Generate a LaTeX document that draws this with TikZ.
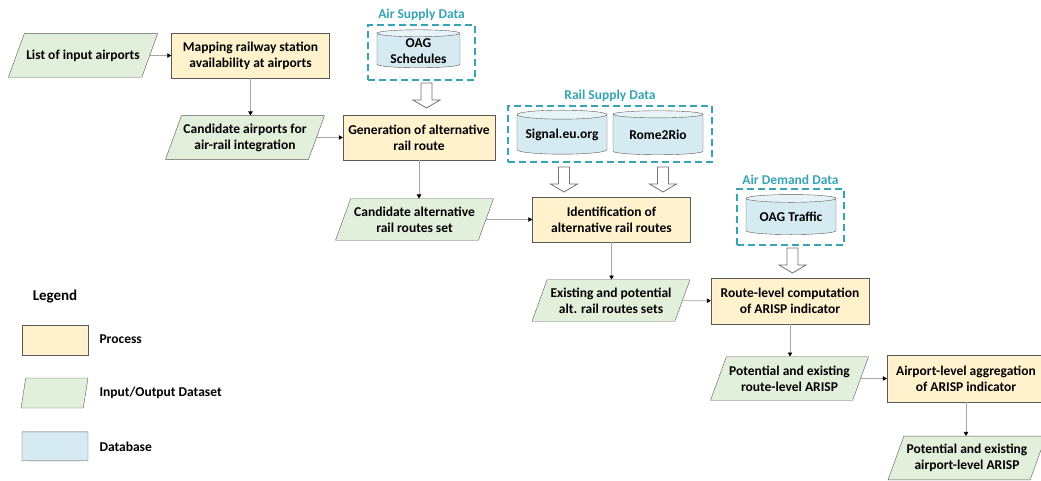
\documentclass[tikz,border=0pt]{standalone}
\usepackage{fontspec}
\setmainfont{Carlito}
\usepackage{tikz}
\usetikzlibrary{
	shapes.geometric,
	arrows.meta
}

\definecolor{procfill}{HTML}{FFF2CC}
\definecolor{iofill}{HTML}{E2EFDA}
\definecolor{dbfill}{HTML}{D5EBF1}
\definecolor{dbtop}{HTML}{E6F3F7}
\definecolor{groupteal}{HTML}{35A5B5}
\definecolor{edgegray}{HTML}{595959}
\definecolor{flowgray}{HTML}{A6A6A6}

\tikzset{
	process/.style={rectangle, draw=edgegray, fill=procfill, minimum width=158pt, minimum height=45pt, align=center, inner sep=2pt},
	dataset/.style={trapezium, trapezium left angle=70, trapezium right angle=110, trapezium stretches body=true, draw=edgegray, fill=iofill, minimum width=158pt, align=center, inner xsep=2pt, inner ysep=8pt},
	database/.style={cylinder, shape border rotate=90, aspect=0.12, draw=edgegray, cylinder uses custom fill, cylinder body fill=dbfill, cylinder end fill=dbtop, minimum width=90pt, minimum height=44pt, align=center, inner sep=1pt},
	datagroup/.style={rectangle, draw=groupteal, dash pattern=on 7pt off 4pt, line width=1.3pt},
	grouptitle/.style={text=groupteal},
	feed/.style={draw=edgegray!85, fill=white, line width=0.8pt, line join=miter},
	flow/.style={draw=flowgray, line width=0.7pt, -{Triangle[length=4pt,width=4.5pt,color=black]}}
}

\begin{document}
\begin{tikzpicture}[x=1pt, y=-1pt, font=\fontsize{13.5}{16}\selectfont\bfseries]
		\useasboundingbox (0,0) rectangle (1041,481);
		\draw
			node[dataset, minimum width=148pt, inner ysep=16pt] (inair) at (83,55.5) {List of input airports}
			node[process]                      (mapst)   at (250.5,55.5)  {Mapping railway station\\availability at airports}
			node[dataset]                      (candair) at (245,137.5)   {Candidate airports for\\air-rail integration}
			node[process, minimum width=152pt] (genrt)   at (419,137.5)   {Generation of alternative\\rail route}
			node[dataset]                      (candrt)  at (414.5,219.5) {Candidate alternative\\rail routes set}
			node[process]                      (identrt) at (611.5,219.5) {Identification of\\alternative rail routes}
			node[dataset]                      (exist)   at (611,300.5)   {Existing and potential\\alt. rail routes sets}
			node[process, minimum height=46pt] (routelv) at (790,301)     {Route-level computation\\of ARISP indicator}
			node[dataset, inner ysep=9pt]      (potrt)   at (789.5,378.5) {Potential and existing\\route-level ARISP}
			node[process, minimum height=47pt] (airlv)   at (966,378.5)   {Airport-level aggregation\\of ARISP indicator}
			node[dataset]                      (potair)  at (967,458)     {Potential and existing\\airport-level ARISP}

			node[datagroup, minimum width=107pt, minimum height=55pt, label={[grouptitle]above:Air Supply Data}]  (airsup)  at (421.5,52.5) {}
			node[datagroup, minimum width=204pt, minimum height=56pt, label={[grouptitle]above:Rail Supply Data}] (railsup) at (610,134)    {}
			node[datagroup, minimum width=107pt, minimum height=56pt, label={[grouptitle]above:Air Demand Data}]  (airdem)  at (790.5,217)  {}

			node[database, minimum width=83pt, minimum height=38pt] (oagsch) at (418.5,51) {OAG\\Schedules}
			node[database]                                          (signal) at (562,135)  {Signal.eu.org}
			node[database]                                          (rome)   at (658,135)  {Rome2Rio}
			node[database, minimum height=40pt]                     (oagtr)  at (791,217)  {OAG Traffic}

			coordinate (feedair)  at (426.5,95.5)
			coordinate (feedsig)  at (564,179.5)
			coordinate (feedrome) at (663,179.5)
			coordinate (feeddem)  at (792.5,260.5)

			(inair)          edge[flow] (mapst)
			(mapst.south)    edge[flow] (mapst.south |- candair.north)
			(candair)        edge[flow] (genrt)
			(genrt.south)    edge[flow] (genrt.south |- candrt.north)
			(candrt)         edge[flow] (identrt)
			(identrt.south)  edge[flow] (identrt.south |- exist.north)
			(exist)          edge[flow] (routelv)
			(routelv.south)  edge[flow] (routelv.south |- potrt.north)
			(potrt)          edge[flow] (airlv)
			(airlv.south)    edge[flow] (airlv.south |- potair.north)
		;
		% hollow arrows from the data sources
		\foreach \src in {feedair,feedsig,feedrome,feeddem}
			\draw[feed] (\src) ++(-5.5,-12.5) -- ++(11,0) -- ++(0,17) -- ++(8,0) -- ++(-13.5,8) -- ++(-13.5,-8) -- ++(8,0) -- cycle;
		% legend
		\draw
			node[font=\fontsize{15}{18}\selectfont\bfseries] (legend) at (55,297) {Legend}
			node[process, minimum width=66pt, minimum height=30pt] (lgproc) at (55,340) {}
			node[dataset, minimum width=67pt, inner ysep=15pt, trapezium left angle=81, trapezium right angle=99] (lgdata) at (54.5,393) {}
			node[database, minimum width=66pt, minimum height=29pt, aspect=0.1] (lgdb) at (55,446.5) {}
			node[anchor=west] (lgproctxt) at (96,339)   {Process}
			node[anchor=west] (lgdatatxt) at (96,393)   {Input/Output Dataset}
			node[anchor=west] (lgdbtxt)   at (96,446.5) {Database}
		;
	\end{tikzpicture}
\end{document}
